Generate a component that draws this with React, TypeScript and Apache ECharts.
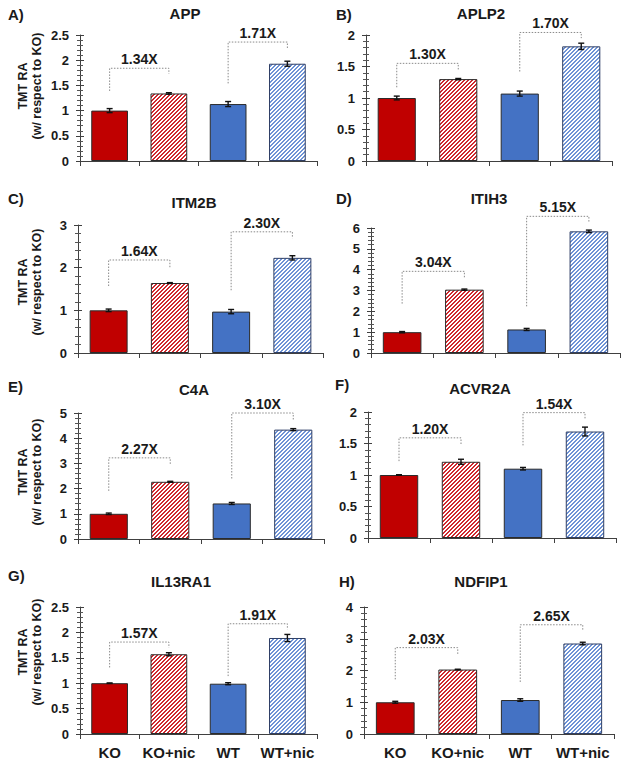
import React, { useEffect, useRef } from 'react';
import * as echarts from 'echarts';

const categories = ['KO', 'KO+nic', 'WT', 'WT+nic'];
const panelLetters = ['A)', 'B)', 'C)', 'D)', 'E)', 'F)', 'G)', 'H)'];
const proteins = ['APP', 'APLP2', 'ITM2B', 'ITIH3', 'C4A', 'ACVR2A', 'IL13RA1', 'NDFIP1'];

const appValues = [1.0, 1.34, 1.13, 1.93];
const appErrors = [0.04, 0.015, 0.05, 0.05];
const aplp2Values = [1.0, 1.3, 1.07, 1.82];
const aplp2Errors = [0.03, 0.01, 0.04, 0.05];
const itm2bValues = [1.0, 1.64, 0.97, 2.23];
const itm2bErrors = [0.03, 0.01, 0.05, 0.05];
const itih3Values = [1.0, 3.04, 1.13, 5.84];
const itih3Errors = [0.03, 0.03, 0.05, 0.06];
const c4aValues = [1.0, 2.27, 1.41, 4.34];
const c4aErrors = [0.03, 0.02, 0.04, 0.04];
const acvr2aValues = [1.0, 1.21, 1.1, 1.69];
const acvr2aErrors = [0.005, 0.04, 0.02, 0.07];
const il13ra1Values = [1.0, 1.57, 0.99, 1.89];
const il13ra1Errors = [0.005, 0.03, 0.02, 0.07];
const ndfip1Values = [1.0, 2.03, 1.07, 2.85];
const ndfip1Errors = [0.03, 0.01, 0.04, 0.04];

const foldLabels = [
  ['1.34X', '1.71X'],
  ['1.30X', '1.70X'],
  ['1.64X', '2.30X'],
  ['3.04X', '5.15X'],
  ['2.27X', '3.10X'],
  ['1.20X', '1.54X'],
  ['1.57X', '1.91X'],
  ['2.03X', '2.65X'],
];
// [left foot, top, right foot] for the KO pair and the WT pair
const bracketHeights = [
  [[1.39, 1.84, 1.73], [1.54, 2.36, 2.24]],
  [[1.17, 1.55, 1.44], [1.42, 2.04, 1.95]],
  [[1.57, 2.18, 2.0], [1.47, 2.84, 2.69]],
  [[2.37, 3.92, 3.57], [2.24, 6.56, 6.24]],
  [[1.91, 3.22, 2.93], [2.4, 5.0, 4.74]],
  [[1.22, 1.59, 1.49], [1.47, 1.99, 1.89]],
  [[1.31, 1.81, 1.7], [1.14, 2.17, 2.06]],
  [[1.72, 2.72, 2.51], [1.64, 3.44, 3.27]],
];
const yMaxes = [2.5, 2, 3, 6, 5, 2, 2.5, 4];
const yIntervals = [0.5, 0.5, 1, 1, 1, 0.5, 0.5, 1];

const panelValues = [appValues, aplp2Values, itm2bValues, itih3Values, c4aValues, acvr2aValues, il13ra1Values, ndfip1Values];
const panelErrors = [appErrors, aplp2Errors, itm2bErrors, itih3Errors, c4aErrors, acvr2aErrors, il13ra1Errors, ndfip1Errors];

// layout (pixels)
const GRIDS = [
  { left: 80, top: 35, width: 237, height: 126 },
  { left: 366, top: 35, width: 246, height: 126 },
  { left: 78, top: 225, width: 245, height: 128 },
  { left: 371, top: 228, width: 249, height: 125 },
  { left: 78, top: 413, width: 246, height: 126 },
  { left: 368, top: 412, width: 248, height: 126 },
  { left: 80, top: 607, width: 237, height: 127 },
  { left: 364, top: 607, width: 250, height: 127 },
];
const TITLE_POS = [[185, 13], [481, 13], [194, 202], [489, 198], [194, 389], [480, 388], [181, 581], [481, 581]];
const LETTER_POS = [[8, 14], [336, 14], [8, 198], [336, 198], [8, 386], [335, 384], [8, 575], [339, 581]];
const YNAME_POS = [[30, 86], null, [30, 282], null, [30, 472], null, [30, 652], null];

const FONT = '"Liberation Sans", Arial, sans-serif';
const RED = '#C00000';
const BLUE = '#4472C4';
const BORDER = '#2b2b2b';
const AXIS = '#404040';

function makeHatch(stripe: string, bg: string) {
  const n = 4;
  const c = document.createElement('canvas');
  c.width = n;
  c.height = n;
  const ctx = c.getContext('2d')!;
  ctx.fillStyle = bg;
  ctx.fillRect(0, 0, n, n);
  ctx.fillStyle = stripe;
  for (let y = 0; y < n; y++) {
    const x0 = (n - 1 - y + n) % n;
    const x1 = (n - y + n) % n;
    ctx.fillRect(x0, y, 1, 1);
    ctx.fillRect(x1, y, 1, 1);
  }
  return c;
}

export default function App() {
  const ref = useRef<HTMLDivElement>(null);
  useEffect(() => {
    document.body.style.margin = '0';
    const chart = echarts.init(ref.current!, null, { renderer: 'svg' });
    const redHatch = makeHatch('#d0282e', '#ffffff');
    const blueHatch = makeHatch('#6e93d6', '#ffffff');

    const barStyle = (idx: number) => {
      if (idx === 0) return { color: RED, borderColor: BORDER, borderWidth: 1 };
      if (idx === 2) return { color: BLUE, borderColor: BORDER, borderWidth: 1 };
      return {
        color: { image: idx === 1 ? redHatch : blueHatch, repeat: 'repeat' },
        borderColor: idx === 1 ? BORDER : '#2f3f66',
        borderWidth: 1,
      };
    };

    const grid: any[] = [];
    const xAxis: any[] = [];
    const yAxis: any[] = [];
    const series: any[] = [];
    const graphic: any[] = [];

    for (let p = 0; p < 8; p++) {
      grid.push({ ...GRIDS[p], containLabel: false });
      const bottomRow = p >= 6;
      xAxis.push({
        type: 'category',
        gridIndex: p,
        data: categories,
        boundaryGap: true,
        axisLine: { show: true, lineStyle: { color: AXIS, width: 1 } },
        axisTick: { show: true, length: 5, alignWithLabel: false, lineStyle: { color: AXIS } },
        axisLabel: {
          show: bottomRow,
          interval: 0,
          hideOverlap: false,
          margin: 11,
          fontFamily: FONT,
          fontWeight: 'bold',
          fontSize: 15,
          color: '#1a1a1a',
        },
        splitLine: { show: false },
      });
      const common = {
        type: 'value',
        gridIndex: p,
        min: 0,
        max: yMaxes[p],
        interval: yIntervals[p],
        splitLine: { show: false },
      };
      yAxis.push({
        ...common,
        axisLine: { show: true, lineStyle: { color: AXIS, width: 1 } },
        axisTick: { show: true, length: 4, lineStyle: { color: AXIS } },
        minorTick: { show: true, splitNumber: 5, length: 3, lineStyle: { color: '#555', width: 1 } },
        axisLabel: {
          margin: 11,
          fontFamily: FONT,
          fontWeight: 'bold',
          fontSize: 13,
          color: '#1a1a1a',
        },
      });
      yAxis.push({
        ...common,
        position: 'left',
        axisLine: { show: false },
        axisTick: { show: true, inside: true, length: 4, lineStyle: { color: AXIS } },
        minorTick: { show: true, splitNumber: 5, length: 3, lineStyle: { color: '#555', width: 1 } },
        axisLabel: { show: false },
      });

      const vals = panelValues[p];
      const errs = panelErrors[p];
      series.push({
        type: 'bar',
        xAxisIndex: p,
        yAxisIndex: 2 * p,
        barWidth: '62%',
        data: vals.map((v, i) => ({ value: v, itemStyle: barStyle(i) })),
      });
      series.push({
        type: 'custom',
        xAxisIndex: p,
        yAxisIndex: 2 * p,
        z: 5,
        data: vals.map((v, i) => [i, v, errs[i]]),
        encode: { x: 0, y: 1 },
        renderItem: (params: any, api: any) => {
          const i = api.value(0);
          const v = api.value(1);
          const e = api.value(2);
          const lo = api.coord([i, v - e]);
          const hi = api.coord([i, v + e]);
          const w = 3;
          const st = { stroke: '#111', lineWidth: 1.4 };
          return {
            type: 'group',
            children: [
              { type: 'line', shape: { x1: lo[0], y1: lo[1], x2: hi[0], y2: hi[1] }, style: st },
              { type: 'line', shape: { x1: lo[0] - w, y1: lo[1], x2: lo[0] + w, y2: lo[1] }, style: st },
              { type: 'line', shape: { x1: hi[0] - w, y1: hi[1], x2: hi[0] + w, y2: hi[1] }, style: st },
            ],
          };
        },
      });
      const labels = foldLabels[p];
      const br = bracketHeights[p];
      series.push({
        type: 'custom',
        xAxisIndex: p,
        yAxisIndex: 2 * p,
        z: 6,
        clip: false,
        data: br.map((h, k) => [2 * k, 2 * k + 1, h[0], h[1], h[2]]),
        encode: { x: 0, y: 3 },
        renderItem: (params: any, api: any) => {
          const x1 = api.value(0);
          const x2 = api.value(1);
          const pL = api.coord([x1, api.value(2)]);
          const pT1 = api.coord([x1, api.value(3)]);
          const pT2 = api.coord([x2, api.value(3)]);
          const pR = api.coord([x2, api.value(4)]);
          return {
            type: 'group',
            children: [
              {
                type: 'polyline',
                shape: { points: [pL, pT1, pT2, pR] },
                style: { stroke: '#8a8a8a', lineWidth: 1, lineDash: [1.5, 1.5], fill: null },
              },
              {
                type: 'text',
                x: (pT1[0] + pT2[0]) / 2,
                y: pT1[1] - 2,
                style: {
                  text: labels[params.dataIndex],
                  font: `bold 14px ${FONT}`,
                  fill: '#1a1a1a',
                  align: 'center',
                  verticalAlign: 'bottom',
                },
              },
            ],
          };
        },
      });

      graphic.push({
        type: 'text',
        x: TITLE_POS[p][0],
        y: TITLE_POS[p][1],
        style: {
          text: proteins[p],
          font: `bold 15px ${FONT}`,
          fill: '#1a1a1a',
          align: 'center',
          verticalAlign: 'middle',
        },
      });
      graphic.push({
        type: 'text',
        x: LETTER_POS[p][0],
        y: LETTER_POS[p][1],
        style: {
          text: panelLetters[p],
          font: `bold 15px ${FONT}`,
          fill: '#1a1a1a',
          align: 'left',
          verticalAlign: 'middle',
        },
      });
      const yn = YNAME_POS[p];
      if (yn) {
        graphic.push({
          type: 'text',
          x: yn[0],
          y: yn[1],
          rotation: Math.PI / 2,
          style: {
            text: 'TMT RA\n(w/ respect to KO)',
            font: `bold 12.5px ${FONT}`,
            lineHeight: 14,
            fill: '#1a1a1a',
            align: 'center',
            verticalAlign: 'middle',
          },
        });
      }
    }

    chart.setOption({
      animation: false,
      backgroundColor: '#ffffff',
      grid,
      xAxis,
      yAxis,
      series,
      graphic,
    });
    return () => chart.dispose();
  }, []);
  return (
    <div
      ref={ref}
      style={{ position: 'absolute', left: 0, top: 0, width: 628, height: 762 }}
    />
  );
}
